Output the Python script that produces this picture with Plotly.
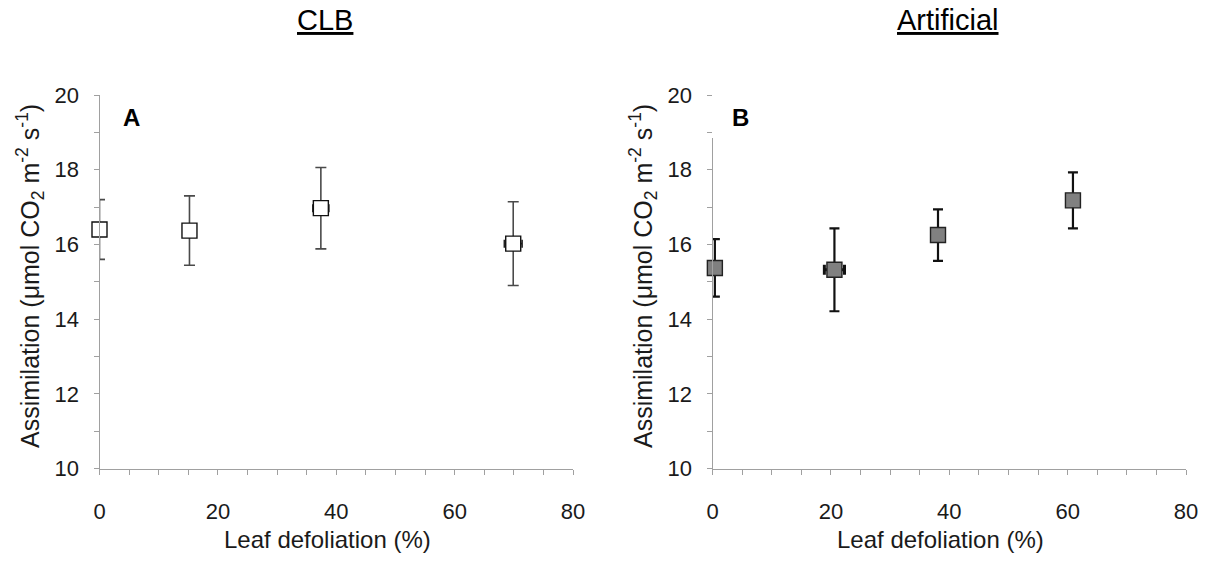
import plotly.graph_objects as go

# ---- data ----
clb_x = [0, 15.2, 37.4, 69.9]
clb_y = [16.40, 16.37, 16.97, 16.02]
clb_err = [0.80, 0.93, 1.09, 1.12]
clb_xerr = [0, 0, 1.35, 1.5]

art_x = [0.4, 20.6, 38.1, 60.9]
art_y = [15.37, 15.32, 16.25, 17.18]
art_err = [0.77, 1.11, 0.69, 0.75]
art_xerr = [0, 1.7, 0, 0]

panel_titles = ["CLB", "Artificial"]
panel_letters = ["A", "B"]
x_title = "Leaf defoliation (%)"
y_title = "Assimilation (μmol CO<sub>2</sub> m<sup>-2</sup> s<sup>-1</sup>)"
x_ticks = [0, 20, 40, 60, 80]
y_ticks = [10, 12, 14, 16, 18, 20]

W, H = 1207, 561
FONT = "Arial, Liberation Sans, sans-serif"

fig = go.Figure()

fig.add_trace(go.Scatter(
    x=clb_x, y=clb_y, mode="markers", xaxis="x", yaxis="y", cliponaxis=False,
    marker=dict(symbol="square", size=15, color="white",
                line=dict(color="#111111", width=1.4)),
    error_y=dict(type="data", array=clb_err, color="#4a4a4a", thickness=1.6, width=5.5),
    error_x=dict(type="data", array=clb_xerr, color="#222222", thickness=1.6, width=4),
    showlegend=False))

fig.add_trace(go.Scatter(
    x=art_x, y=art_y, mode="markers", xaxis="x2", yaxis="y2", cliponaxis=False,
    marker=dict(symbol="square", size=15, color="#808080",
                line=dict(color="#222222", width=1.4)),
    error_y=dict(type="data", array=art_err, color="#111111", thickness=2.2, width=5),
    error_x=dict(type="data", array=art_xerr, color="#111111", thickness=3, width=5),
    showlegend=False))

ydom = [1 - 468.5 / H, 1 - 95 / H]
dom1 = [99.5 / W, 573 / W]
dom2 = [712.5 / W, 1186 / W]

axis_common = dict(
    showgrid=False, zeroline=False, showline=True, linecolor="#a0a0a0", linewidth=1,
    ticks="outside", ticklen=5, tickcolor="#a0a0a0", tickwidth=1, automargin=False,
    tickfont=dict(family=FONT, size=22, color="#1a1a1a"),
)

xaxis_common = dict(axis_common, range=[0, 80], tickvals=x_ticks,
                    minor=dict(dtick=5, ticks="outside", ticklen=5, tickcolor="#a0a0a0"),
                    ticklabelstandoff=18)
yaxis_common = dict(axis_common, range=[10, 20], tickvals=y_ticks,
                    minor=dict(dtick=1, ticks="outside", ticklen=5, tickcolor="#a0a0a0"),
                    ticklabelstandoff=10)

fig.update_layout(
    template="none",
    width=W, height=H, margin=dict(l=0, r=0, t=0, b=0, pad=0), autosize=False,
    paper_bgcolor="white", plot_bgcolor="white",
    xaxis=dict(xaxis_common, domain=dom1, anchor="y"),
    yaxis=dict(yaxis_common, domain=ydom, anchor="x"),
    xaxis2=dict(xaxis_common, domain=dom2, anchor="y2"),
    yaxis2=dict(yaxis_common, domain=ydom, anchor="x2"),
)

ann = []
# panel titles
for t, cx in zip(panel_titles, [324.5, 947.5]):
    ann.append(dict(text="<u>" + t + "</u>", x=cx / W, y=1 - 20 / H, xref="paper", yref="paper",
                    showarrow=False, xanchor="center", yanchor="middle",
                    font=dict(family=FONT, size=29, color="black")))
# panel letters
for t, cx in zip(panel_letters, [131, 740]):
    ann.append(dict(text="<b>" + t + "</b>", x=cx / W, y=1 - 117.5 / H, xref="paper", yref="paper",
                    showarrow=False, xanchor="center", yanchor="middle",
                    font=dict(family=FONT, size=24, color="black")))
# axis titles
for cx in [327, 940]:
    ann.append(dict(text=x_title, x=cx / W, y=1 - 539 / H, xref="paper", yref="paper",
                    showarrow=False, xanchor="center", yanchor="middle",
                    font=dict(family=FONT, size=24, color="#1a1a1a")))
for cx in [30, 643]:
    ann.append(dict(text=y_title, x=cx / W, y=1 - 276 / H, xref="paper", yref="paper",
                    showarrow=False, xanchor="center", yanchor="middle", textangle=-90,
                    font=dict(family=FONT, size=25, color="#1a1a1a")))
fig.update_layout(annotations=ann)

# white patch hiding top of panel B y-axis line (as in the original)
fig.add_shape(type="rect", xref="paper", yref="y2", x0=712 / W, x1=716 / W, y0=18.85, y1=20.2,
              fillcolor="white", line=dict(width=0), layer="above")

fig.write_html("out.html")
